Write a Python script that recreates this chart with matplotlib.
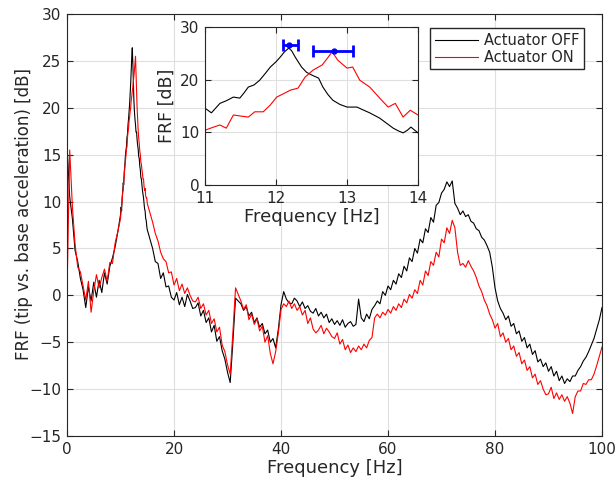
import numpy as np
import matplotlib
matplotlib.use("Agg")
import matplotlib.pyplot as plt

# frequency grid of the measured FRFs
freq = np.concatenate([np.linspace(0, 9.5, 20),
                       np.linspace(10, 14.9, 50),
                       np.linspace(15, 100, 171)])

frf_off = [
    # 0 - 9.5 Hz
    16.0, 10.5, 8.2, 4.8, 3.6, 1.8, 0.6, -1.3, 0.9, -0.6,
    1.4, -0.2, 1.6, 0.3, 2.4, 1.2, 3.1, 4.0, 5.2, 6.8,
    # 10 - 14.9 Hz
    8.6, 9.4, 9.0, 10.4, 11.0, 12.0, 11.8, 13.2, 13.8, 14.8,
    15.4, 15.8, 16.8, 17.2, 18.2, 18.8, 19.6, 20.4, 21.4, 22.6,
    24.0, 25.4, 26.4, 24.8, 22.6, 20.8, 19.6, 18.8, 18.2, 17.4,
    17.4, 16.6, 16.0, 15.6, 14.8, 14.6, 13.8, 13.4, 12.6, 12.4,
    11.8, 11.2, 10.8, 10.4, 9.8, 9.2, 9.0, 8.2, 8.0, 7.4,
    # 15 - 100 Hz
    7.0, 6.0, 5.0, 3.6, 3.4, 1.8, 2.4, 0.9, 1.0, -0.2,
    -0.5, 0.3, -1.0, -0.2, -1.2, 0.1, -0.6, -1.4, -1.3, -0.8,
    -2.2, -1.6, -2.9, -2.4, -3.9, -3.2, -4.9, -4.4, -5.9, -6.8,
    -8.2, -9.3, -5.0, -0.3, -0.6, -0.9, -1.6, -1.2, -2.2, -1.8,
    -2.9, -2.4, -3.4, -3.0, -4.1, -3.7, -5.0, -4.6, -5.6, -3.6,
    -1.0, 0.4, -0.4, -0.8, -0.9, -0.3, -0.6, -1.2, -0.7, -1.4,
    -1.1, -1.7, -1.9, -1.4, -2.2, -1.8, -2.4, -2.0, -2.9, -2.5,
    -3.1, -2.7, -3.2, -2.6, -3.4, -3.0, -2.8, -3.3, -3.1, -0.4,
    -2.4, -2.8, -2.0, -2.5, -1.5, -1.1, -0.6, -0.9, 0.4, 0.0,
    1.0, 0.6, 1.6, 1.2, 2.3, 1.9, 3.1, 2.6, 4.0, 3.6,
    5.0, 4.5, 6.0, 5.6, 7.1, 6.7, 8.3, 7.8, 9.6, 9.9,
    10.9, 11.3, 12.1, 11.6, 12.2, 9.8, 9.3, 8.6, 9.0, 8.4,
    8.6, 7.9, 7.7, 7.1, 6.9, 6.2, 5.9, 5.3, 4.6, 3.0,
    0.8, -0.6, -1.4, -1.9, -2.6, -2.2, -3.3, -3.0, -4.1, -3.8,
    -4.9, -4.5, -5.6, -5.2, -6.3, -5.9, -7.1, -6.8, -7.6, -7.2,
    -8.1, -7.6, -8.6, -8.1, -9.1, -8.6, -9.4, -8.9, -9.2, -8.6,
    -8.6, -8.0, -7.6, -7.0, -6.6, -6.0, -5.3, -4.6, -3.6, -2.6,
    -1.3,
]

frf_on = [
    # 0 - 9.5 Hz
    0.2, 15.5, 9.5, 5.5, 3.0, 2.5, 1.0, -0.5, 1.5, -1.8,
    0.5, 2.2, 0.8, 1.9, 2.8, 1.5, 3.5, 3.4, 5.6, 6.8,
    # 10 - 14.9 Hz
    8.2, 9.0, 9.6, 10.0, 11.0, 11.2, 12.2, 12.8, 13.6, 14.2,
    14.8, 15.6, 15.8, 16.8, 17.4, 17.8, 18.6, 19.0, 19.6, 20.0,
    20.8, 21.2, 21.8, 22.2, 22.8, 23.4, 24.0, 24.8, 25.5, 23.6,
    21.6, 20.0, 18.8, 17.6, 16.8, 16.2, 15.4, 15.0, 14.2, 14.0,
    13.4, 13.0, 12.4, 12.4, 11.6, 11.2, 11.4, 10.6, 10.4, 10.4,
    # 15 - 100 Hz
    9.8, 8.8, 7.8, 6.6, 5.8, 4.6, 3.9, 3.6, 2.4, 2.5,
    1.1, 1.8, 0.5, 1.2, 0.2, 0.8, 0.0, -0.6, -0.7, -0.2,
    -1.4, -0.9, -2.1, -1.6, -3.0, -2.5, -3.9, -3.4, -5.3, -6.0,
    -7.4, -8.4, -4.0, 0.8, 0.1, -0.6, -1.5, -1.0, -2.6, -2.0,
    -3.1, -2.5, -3.8, -3.3, -5.0, -4.3, -6.2, -7.3, -6.0, -4.0,
    -1.5, -0.9, -1.2, -0.6, -1.4, -0.9, -1.6, -1.2, -2.1, -1.6,
    -3.0, -2.4, -3.6, -4.0, -3.7, -3.2, -4.1, -3.5, -3.9, -4.4,
    -4.6, -4.0, -5.2, -4.7, -5.8, -5.3, -6.1, -5.6, -6.0, -5.4,
    -5.8, -5.2, -5.6, -4.8, -4.5, -2.4, -2.0, -2.4, -1.8, -2.1,
    -1.5, -1.9, -1.2, -1.6, -0.9, -1.3, -0.4, -0.8, 0.1, -0.3,
    0.6, 0.2, 1.6, 1.1, 2.6, 2.1, 3.6, 3.2, 4.6, 4.1,
    6.0, 5.6, 7.2, 6.6, 8.0, 7.2, 4.6, 3.2, 3.4, 3.0,
    3.7, 3.1, 2.6, 1.9, 1.0, 0.4, -0.5, -1.1, -2.0, -2.6,
    -3.5, -3.0, -4.4, -4.0, -5.0, -4.6, -5.8, -5.4, -6.5, -6.1,
    -7.3, -6.9, -8.0, -7.6, -8.8, -8.4, -9.5, -9.1, -10.0, -10.6,
    -10.5, -9.8, -11.0, -10.4, -11.1, -10.6, -11.3, -10.8, -11.5, -12.6,
    -10.8, -10.2, -10.2, -9.4, -9.5, -9.0, -9.0, -8.4, -7.5, -6.5,
    -5.5,
]

# zoom on the first mode (inset)
zoom_freq_off = [11.0, 11.09, 11.21, 11.3, 11.4, 11.49, 11.55, 11.61, 11.69, 11.77,
                 11.85, 11.92, 12.0, 12.06, 12.12, 12.18, 12.22, 12.27, 12.36, 12.43,
                 12.5, 12.6, 12.66, 12.73, 12.8, 12.9, 13.0, 13.14, 13.22, 13.32,
                 13.46, 13.55, 13.65, 13.72, 13.79, 13.85, 13.9, 14.0]
zoom_off = [14.6, 13.7, 15.5, 16.0, 16.7, 16.5, 17.5, 18.6, 19.0, 19.9,
            21.2, 22.4, 23.4, 24.3, 25.3, 26.0, 25.5, 24.3, 22.4, 21.4,
            20.9, 20.3, 18.6, 17.2, 16.1, 15.3, 14.8, 14.8, 14.3, 13.7,
            12.7, 11.8, 10.8, 10.3, 9.9, 10.4, 11.0, 9.9]
zoom_freq_on = [11.0, 11.1, 11.21, 11.3, 11.4, 11.5, 11.61, 11.7, 11.82, 11.92,
                12.01, 12.1, 12.2, 12.31, 12.41, 12.52, 12.65, 12.72, 12.79, 12.87,
                13.0, 13.08, 13.18, 13.32, 13.46, 13.58, 13.68, 13.79, 13.89, 14.0]
zoom_on = [10.4, 10.9, 11.4, 10.8, 13.3, 13.1, 12.9, 13.9, 13.9, 15.2,
           16.7, 17.3, 18.0, 18.4, 20.5, 21.8, 22.8, 24.0, 25.3, 23.7,
           22.2, 22.4, 19.9, 18.6, 16.5, 14.8, 15.5, 12.9, 14.2, 13.3]

# resonance frequency with its spread
peak_freq = [12.19, 12.81]
peak_val = [26.6, 25.5]
peak_lo = [0.09, 0.29]
peak_hi = [0.12, 0.27]

dark = '#262626'
gridc = '#dfdfdf'
plt.rcParams['font.family'] = 'DejaVu Sans'
plt.rcParams['text.color'] = dark
plt.rcParams['axes.labelcolor'] = dark
plt.rcParams['xtick.color'] = dark
plt.rcParams['ytick.color'] = dark


def style_axes(ax, fs):
    ax.grid(True, color=gridc, linewidth=0.8)
    ax.set_axisbelow(True)
    for s in ax.spines.values():
        s.set_color(dark)
        s.set_linewidth(0.8)
    ax.tick_params(direction='in', top=True, right=True, length=4,
                   width=0.8, labelsize=fs, pad=4)


fig = plt.figure(figsize=(6.16, 4.87), dpi=100)
ax = fig.add_axes([0.1088, 0.1047, 0.8685, 0.8665])
ax.plot(freq, frf_off, color='black', linewidth=0.8, label='Actuator OFF')
ax.plot(freq, frf_on, color='#ff0000', linewidth=0.8, label='Actuator ON')
ax.set_xlim(0, 100)
ax.set_ylim(-15, 30)
ax.set_xticks(range(0, 101, 20))
ax.set_yticks(range(-15, 31, 5))
ax.set_xlabel('Frequency [Hz]', fontsize=13, labelpad=2)
ax.set_ylabel('FRF (tip vs. base acceleration) [dB]', fontsize=12)
ax.yaxis.set_label_coords(-0.064, 0.525)
style_axes(ax, 11)
ax.legend(loc='upper right', bbox_to_anchor=(0.948, 0.942), bbox_transform=fig.transFigure,
          fontsize=10.5, handlelength=3.0, fancybox=False, framealpha=1,
          edgecolor=dark, borderpad=0.3, labelspacing=0.15, handletextpad=0.4,
          borderaxespad=0)

axin = fig.add_axes([0.3328, 0.6201, 0.3458, 0.3244])
axin.plot(zoom_freq_off, zoom_off, color='black', linewidth=0.8)
axin.plot(zoom_freq_on, zoom_on, color='#ff0000', linewidth=0.8)
axin.errorbar(peak_freq, peak_val, xerr=[peak_lo, peak_hi], fmt='.', color='#0000ff',
              markersize=7, elinewidth=2, capsize=4, capthick=2)
axin.set_xlim(11, 14)
axin.set_ylim(0, 30)
axin.set_xticks([11, 12, 13, 14])
axin.set_yticks([0, 10, 20, 30])
axin.set_xlabel('Frequency [Hz]', fontsize=13, labelpad=2)
axin.set_ylabel('FRF [dB]', fontsize=12.5, labelpad=3)
style_axes(axin, 11)
axin.set_facecolor('white')

fig.savefig('out.png', dpi=100)
